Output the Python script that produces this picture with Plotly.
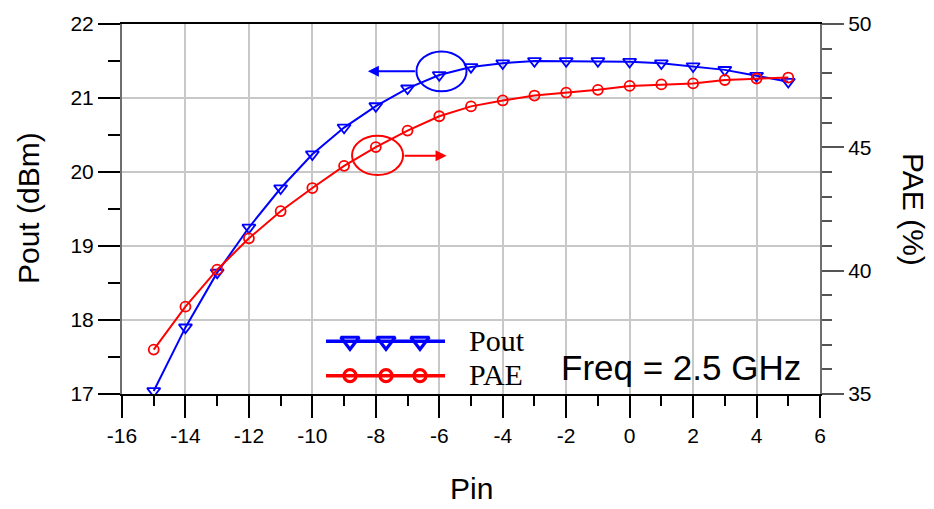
import plotly.graph_objects as go

# ---------------- data ----------------
PIN = [-15, -14, -13, -12, -11, -10, -9, -8, -7, -6, -5, -4, -3, -2, -1, 0, 1, 2, 3, 4, 5]
POUT = [17.04, 17.90, 18.64, 19.25, 19.78, 20.24, 20.60, 20.89, 21.13, 21.31, 21.42,
        21.47, 21.50, 21.50, 21.50, 21.49, 21.47, 21.43, 21.38, 21.30, 21.22]
PAE = [36.8, 38.54, 40.04, 41.31, 42.41, 43.35, 44.25, 45.01, 45.68, 46.26, 46.66,
       46.90, 47.10, 47.22, 47.33, 47.49, 47.55, 47.59, 47.73, 47.79, 47.83]

X_TICKS = [-16, -14, -12, -10, -8, -6, -4, -2, 0, 2, 4, 6]
X_TICK_LABELS = ["-16", "-14", "-12", "-10", "-8", "-6", "-4", "-2", "0", "2", "4", "6"]
Y_TICKS = [17, 18, 19, 20, 21, 22]
Y2_TICKS = [35, 40, 45, 50]

SERIES_NAMES = ["Pout", "PAE"]
FREQ_TEXT = "Freq = 2.5 GHz"

# ---------------- styling ----------------
BLUE = "#0000ff"
RED = "#ff0000"
GRID = "#c8c8c8"
FONT = "Liberation Sans, Arial, sans-serif"
SERIF = "Liberation Serif, Times New Roman, serif"

W, H = 934, 509
L, R, T, B = 122, 820, 20, 394  # plot-area pixel box


def px_x(px):
    return (px - L) / (R - L)


def px_y(py):
    return (B - py) / (B - T)


fig = go.Figure()

fig.add_trace(go.Scatter(
    x=PIN, y=POUT, mode="lines+markers", name=SERIES_NAMES[0],
    line=dict(color=BLUE, width=2),
    marker=dict(symbol="triangle-down-open", size=11.5, color=BLUE, line=dict(width=1.8, color=BLUE)),
    showlegend=False, yaxis="y"))
fig.add_trace(go.Scatter(
    x=PIN, y=PAE, mode="lines+markers", name=SERIES_NAMES[1],
    line=dict(color=RED, width=2),
    marker=dict(symbol="circle-open", size=10, color=RED, line=dict(width=1.8, color=RED)),
    showlegend=False, yaxis="y2"))

# ---------------- custom legend (pixel overlay axes) ----------------
LEG_X0, LEG_X1 = 326, 445
LEG_MARK_X = [350, 386, 420]
LEG_Y = [340.7, 375.5]
LEG_TEXT_X = 467
for i, (col, sym) in enumerate([(BLUE, "triangle-down-open"), (RED, "circle-open")]):
    fig.add_trace(go.Scatter(x=[LEG_X0, LEG_X1], y=[LEG_Y[i]] * 2, mode="lines",
                             line=dict(color=col, width=3.5), xaxis="x3", yaxis="y3",
                             showlegend=False, hoverinfo="skip"))
    fig.add_trace(go.Scatter(x=LEG_MARK_X, y=[LEG_Y[i]] * 3, mode="markers",
                             marker=dict(symbol=sym, size=16 if i == 0 else 12, color=col,
                                         line=dict(width=3.2, color=col)),
                             xaxis="x3", yaxis="y3", showlegend=False, hoverinfo="skip"))

annotations = []
for i, name in enumerate(SERIES_NAMES):
    annotations.append(dict(x=px_x(LEG_TEXT_X), y=px_y(LEG_Y[i] - 1), xref="paper", yref="paper",
                            text=name, showarrow=False, xanchor="left", yanchor="middle",
                            font=dict(family=SERIF, size=30, color="black")))

annotations.append(dict(x=px_x(559), y=px_y(367), xref="paper", yref="paper", text=FREQ_TEXT,
                        showarrow=False, xanchor="left", yanchor="middle",
                        font=dict(family=FONT, size=35, color="black")))

# arrows
annotations.append(dict(x=-8.25, y=21.36, ax=-6.72, ay=21.36, xref="x", yref="y", axref="x", ayref="y",
                        showarrow=True, arrowhead=2, arrowsize=1.1, arrowwidth=2, arrowcolor=BLUE, text=""))
annotations.append(dict(x=-5.77, y=20.22, ax=-7.14, ay=20.22, xref="x", yref="y", axref="x", ayref="y",
                        showarrow=True, arrowhead=2, arrowsize=1.1, arrowwidth=2, arrowcolor=RED, text=""))

# axis titles
annotations.append(dict(x=0.5, y=px_y(490), xref="paper", yref="paper", text="Pin", showarrow=False,
                        xanchor="center", yanchor="middle", font=dict(family=FONT, size=30, color="black")))
annotations.append(dict(x=px_x(28), y=px_y(206), xref="paper", yref="paper", text="Pout (dBm)",
                        showarrow=False, textangle=-90, xanchor="center", yanchor="middle",
                        font=dict(family=FONT, size=30, color="black")))
annotations.append(dict(x=px_x(914), y=px_y(207), xref="paper", yref="paper", text="PAE (%)",
                        showarrow=False, textangle=90, xanchor="center", yanchor="middle",
                        font=dict(family=FONT, size=30, color="black")))

shapes = [
    dict(type="circle", xref="x", yref="y", x0=-6.72, x1=-5.14, y0=21.09, y1=21.63,
         line=dict(color=BLUE, width=2)),
    dict(type="circle", xref="x", yref="y", x0=-8.75, x1=-7.14, y0=19.96, y1=20.49,
         line=dict(color=RED, width=2)),
]

tickfont = dict(family=FONT, size=21, color="black")

fig.update_layout(
    width=W, height=H, autosize=False,
    margin=dict(l=L, r=W - R, t=T, b=H - B, pad=0),
    paper_bgcolor="white", plot_bgcolor="white",
    xaxis=dict(range=[-16, 6], tickvals=X_TICKS, ticktext=X_TICK_LABELS,
               ticks="outside", ticklen=22, tickwidth=1.5, tickcolor="black",
               showgrid=True, gridcolor=GRID, gridwidth=1.5, zeroline=False,
               showline=True, linecolor="black", linewidth=2, mirror=True,
               tickfont=tickfont,
               minor=dict(dtick=1, tick0=-16, ticks="outside", ticklen=10, tickwidth=1.5,
                          tickcolor="black", showgrid=False)),
    yaxis=dict(range=[17, 22], tickvals=Y_TICKS,
               ticks="outside", ticklen=22, tickwidth=1.5, tickcolor="black",
               showgrid=True, gridcolor=GRID, gridwidth=1.5, zeroline=False,
               showline=True, linecolor="#6e6e6e", linewidth=2,
               tickfont=tickfont,
               minor=dict(dtick=0.5, tick0=17, ticks="outside", ticklen=12, tickwidth=1.5,
                          tickcolor="black", showgrid=False)),
    yaxis2=dict(range=[35, 50], tickvals=Y2_TICKS, overlaying="y", side="right",
                ticks="outside", ticklen=22, tickwidth=1.5, tickcolor="#555555",
                showgrid=False, zeroline=False,
                showline=True, linecolor="#6e6e6e", linewidth=2,
                tickfont=tickfont,
                minor=dict(dtick=1, tick0=35, ticks="outside", ticklen=10, tickwidth=1.5,
                           tickcolor="#555555", showgrid=False)),
    xaxis3=dict(range=[L, R], overlaying="x", visible=False, fixedrange=True),
    yaxis3=dict(range=[B, T], overlaying="y", visible=False, fixedrange=True),
    annotations=annotations,
    shapes=shapes,
    showlegend=False,
)

fig.write_html("out.html")
